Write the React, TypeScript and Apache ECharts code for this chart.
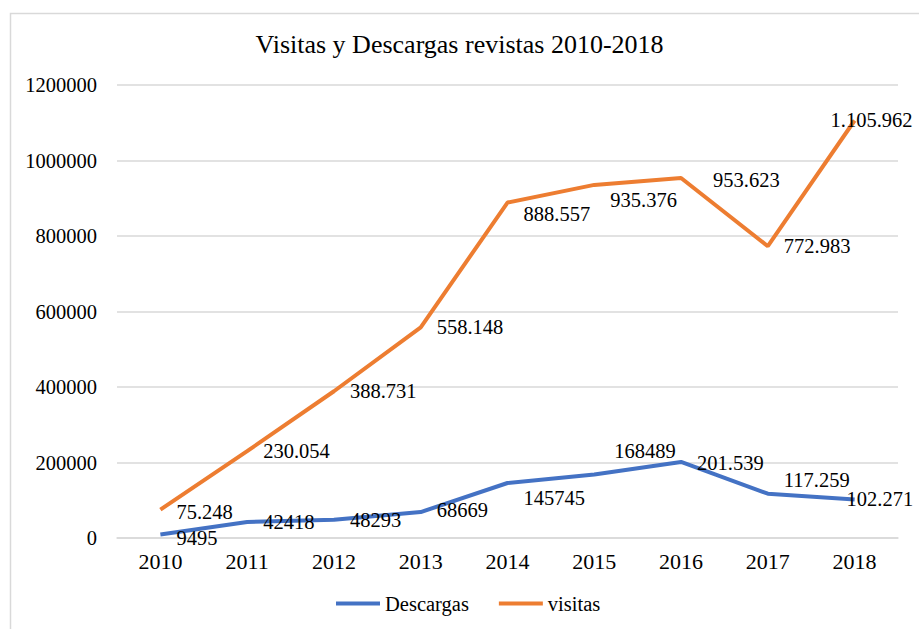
import React, { useEffect, useRef } from "react";
import * as echarts from "echarts";

const years = ["2010", "2011", "2012", "2013", "2014", "2015", "2016", "2017", "2018"];
const descargas = [9495, 42418, 48293, 68669, 145745, 168489, 201539, 117259, 102271];
const visitas = [75248, 230054, 388731, 558148, 888557, 935376, 953623, 772983, 1105962];
const descargasLabels = ["9495", "42418", "48293", "68669", "145745", "168489", "201.539", "117.259", "102.271"];
const visitasLabels = ["75.248", "230.054", "388.731", "558.148", "888.557", "935.376", "953.623", "772.983", "1.105.962"];
const yTicks = [0, 200000, 400000, 600000, 800000, 1000000, 1200000];

// label offsets [dx, dy] (style only)
const descOffsets = [[0, 4], [0, 0], [0, 0], [0, -2], [0, 15], [4, -23], [0, 1], [0, -14], [-24, 0]];
const visOffsets = [[0, 2], [0, 0], [0, 0], [0, 0], [0, 11], [0, 15], [16, 2], [0, 0], [-40, 0]];

const FONT = "'Liberation Serif', 'Times New Roman', serif";

export default function App() {
  const ref = useRef<HTMLDivElement>(null);
  useEffect(() => {
    const chart = echarts.init(ref.current!, null, { renderer: "svg" });
    const mk = (vals: number[], labels: string[], offs: number[][]) =>
      vals.map((v, i) => ({
        value: v,
        label: { formatter: labels[i], offset: offs[i] },
      }));
    const labelStyle = { show: true, position: "right", distance: 16, fontFamily: FONT, fontSize: 20.5, color: "#000" };
    chart.setOption({
      animation: false,
      backgroundColor: "#ffffff",
      textStyle: { fontFamily: FONT },
      title: {
        text: "Visitas y Descargas revistas 2010-2018",
        left: "center",
        top: 26,
        textStyle: { fontFamily: FONT, fontSize: 26, fontWeight: "normal", color: "#000" },
      },
      graphic: [
        {
          type: "rect",
          shape: { x: 10.5, y: 13.5, width: 930, height: 640 },
          style: { fill: "none", stroke: "#d9d9d9", lineWidth: 1.5 },
          silent: true,
        },
      ],
      legend: {
        bottom: 10,
        left: 331,
        itemWidth: 44,
        itemHeight: 4,
        itemGap: 30,
        icon: "rect",
        textStyle: { fontFamily: FONT, fontSize: 20.5, color: "#000" },
        data: ["Descargas", "visitas"],
      },
      grid: { left: 117, right: 21, top: 85, bottom: 91 },
      xAxis: {
        type: "category",
        data: years,
        boundaryGap: true,
        axisLine: { show: true, lineStyle: { color: "#d9d9d9", width: 1.5 } },
        axisTick: { show: false },
        axisLabel: { fontFamily: FONT, fontSize: 22, color: "#000", margin: 12 },
      },
      yAxis: {
        type: "value",
        min: yTicks[0],
        max: yTicks[yTicks.length - 1],
        interval: 200000,
        axisLine: { show: false },
        axisTick: { show: false },
        splitLine: { lineStyle: { color: "#d9d9d9", width: 1.5 } },
        axisLabel: { fontFamily: FONT, fontSize: 20.5, color: "#000", margin: 20, formatter: (v: number) => String(v) },
      },
      series: [
        {
          name: "Descargas",
          type: "line",
          data: mk(descargas, descargasLabels, descOffsets),
          showSymbol: true,
          symbol: "circle",
          symbolSize: 0,
          lineStyle: { color: "#4472C4", width: 4 },
          itemStyle: { color: "#4472C4" },
          label: labelStyle,
          z: 2,
        },
        {
          name: "visitas",
          type: "line",
          data: mk(visitas, visitasLabels, visOffsets),
          showSymbol: true,
          symbol: "circle",
          symbolSize: 0,
          lineStyle: { color: "#ED7D31", width: 4 },
          itemStyle: { color: "#ED7D31" },
          label: labelStyle,
          z: 3,
        },
      ],
    });
    return () => chart.dispose();
  }, []);
  return (
    <div
      ref={ref}
      style={{ position: "fixed", left: 0, top: 0, width: 919, height: 629, background: "#fff" }}
    />
  );
}
